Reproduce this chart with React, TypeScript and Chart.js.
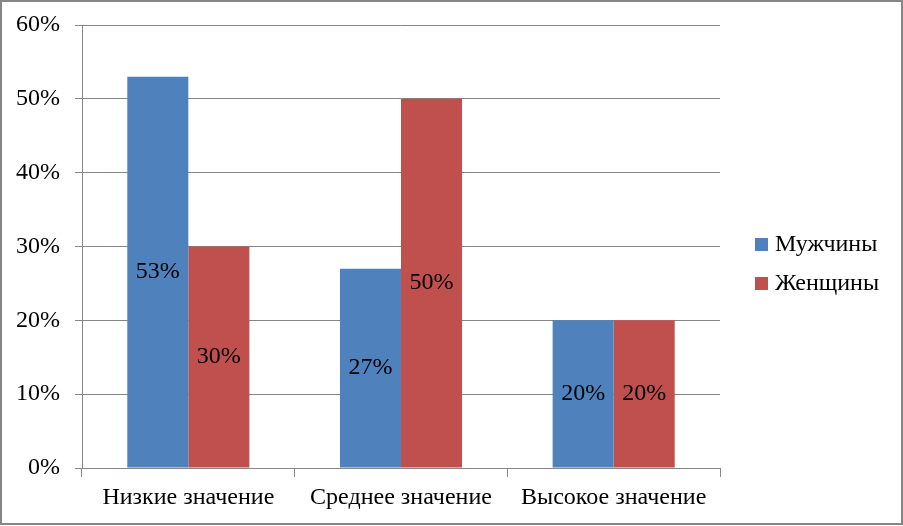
import React, { useEffect, useRef } from 'react';
import { Chart, registerables } from 'chart.js';

Chart.register(...registerables);

// Data
const categories = ['Низкие значение', 'Среднее значение', 'Высокое значение'];
const menValues = [53, 27, 20];
const womenValues = [30, 50, 20];
const seriesNames = ['Мужчины', 'Женщины'];
const yTicks = [0, 10, 20, 30, 40, 50, 60];

const BLUE = '#4F81BD';
const RED = '#C0504D';
const GRID = '#868686';
const FONT = '"Liberation Serif", "Times New Roman", serif';

// Labels centred inside each bar
const barLabels = {
  id: 'barLabels',
  afterDatasetsDraw(chart: Chart) {
    const ctx = chart.ctx;
    ctx.save();
    ctx.font = `24px ${FONT}`;
    ctx.fillStyle = '#000';
    ctx.textAlign = 'center';
    ctx.textBaseline = 'middle';
    chart.data.datasets.forEach((ds, i) => {
      chart.getDatasetMeta(i).data.forEach((bar: any, j) => {
        const { x, y, base } = bar.getProps(['x', 'y', 'base'], true);
        ctx.fillText(ds.data[j] + '%', x, (y + base) / 2);
      });
    });
    ctx.restore();
  },
};

// Legend on the right plus outer frame
const sideLegend = {
  id: 'sideLegend',
  afterDraw(chart: Chart) {
    const ctx = chart.ctx;
    ctx.save();
    const area = chart.chartArea;
    const mid = (area.top + area.bottom) / 2;
    const n = chart.data.datasets.length;
    const step = 39;
    ctx.font = `24px ${FONT}`;
    ctx.textBaseline = 'middle';
    ctx.textAlign = 'left';
    chart.data.datasets.forEach((ds, i) => {
      const cy = mid + (i - (n - 1) / 2) * step + 18;
      ctx.fillStyle = ds.backgroundColor as string;
      ctx.fillRect(area.right + 35, cy - 7, 13, 13);
      ctx.fillStyle = '#000';
      ctx.fillText(ds.label as string, area.right + 55, cy);
    });
    ctx.strokeStyle = GRID;
    ctx.lineWidth = 2;
    ctx.strokeRect(1, 1, chart.width - 2, chart.height - 3);
    ctx.restore();
  },
};

const App: React.FC = () => {
  const canvasRef = useRef<HTMLCanvasElement | null>(null);

  useEffect(() => {
    document.body.style.margin = '0';
    if (!canvasRef.current) return;

    const chart = new Chart(canvasRef.current, {
      type: 'bar',
      data: {
        labels: categories,
        datasets: [
          { label: seriesNames[0], data: menValues, backgroundColor: BLUE },
          { label: seriesNames[1], data: womenValues, backgroundColor: RED },
        ],
      },
      options: {
        responsive: true,
        maintainAspectRatio: false,
        animation: false,
        layout: { padding: { top: 25, right: 183, left: 0, bottom: 0 } },
        datasets: {
          bar: { barPercentage: 1, categoryPercentage: 0.574 },
        },
        plugins: {
          legend: { display: false },
          tooltip: { enabled: false },
        },
        scales: {
          x: {
            grid: {
              offset: true,
              drawOnChartArea: false,
              drawTicks: true,
              tickLength: 9,
              color: GRID,
            },
            border: { color: GRID },
            ticks: {
              color: '#000',
              padding: 6,
              font: { family: FONT, size: 24 },
              maxRotation: 0,
            },
            afterFit(scale: any) {
              scale.height = 58;
              scale.paddingLeft = 0;
              scale.paddingRight = 0;
            },
          },
          y: {
            min: 0,
            max: 60,
            afterBuildTicks(scale: any) {
              scale.ticks = yTicks.map((v) => ({ value: v }));
            },
            grid: { color: GRID, tickLength: 7 },
            border: { color: GRID },
            ticks: {
              color: '#000',
              padding: 15,
              font: { family: FONT, size: 24 },
              callback: (v: any) => v + '%',
            },
            afterFit(scale: any) {
              scale.width = 82;
              scale.paddingTop = 0;
              scale.paddingBottom = 0;
            },
          },
        },
      },
      plugins: [barLabels, sideLegend],
    });

    return () => {
      chart.destroy();
    };
  }, []);

  return (
    <div style={{ width: 903, height: 526, position: 'relative', background: '#fff' }}>
      <canvas ref={canvasRef}></canvas>
    </div>
  );
};

export default App;
